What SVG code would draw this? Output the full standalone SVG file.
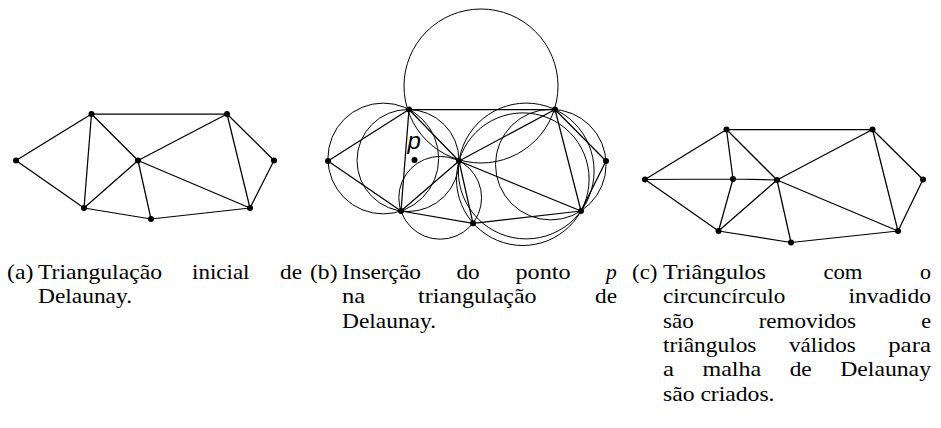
<svg xmlns="http://www.w3.org/2000/svg" width="941" height="428" viewBox="0 0 941 428">
<style>
.e{stroke:#000;stroke-width:1.25;fill:none;stroke-linecap:round}
.cc{stroke:#000;stroke-width:1;fill:none}
.n{fill:#000}
.cap{font-family:"Liberation Serif","Times New Roman",serif;font-size:21.5px;fill:#000}
.pl{font-family:"Liberation Sans",Arial,sans-serif;font-size:24px;font-style:italic;fill:#000}
</style>
<rect width="941" height="428" fill="#fff"/>

<!-- Panel (a) -->
<g id="a-connectors">
<path class="e" d="M16,160.5L91.5,114M16,160.5L84,208M91.5,114L227,114M91.5,114L84,208M91.5,114L138,160.5M138,160.5L84,208M138,160.5L227,114M138,160.5L151,219M138,160.5L250,208M84,208L151,219M151,219L250,208M227,114L250,208M227,114L274,160.5M274,160.5L250,208"/>
</g>
<g id="a-nodes">
<g id="a-A"><circle class="n" cx="16" cy="160.5" r="3"/></g>
<g id="a-B"><circle class="n" cx="91.5" cy="114" r="3"/></g>
<g id="a-C"><circle class="n" cx="227" cy="114" r="3"/></g>
<g id="a-D"><circle class="n" cx="274" cy="160.5" r="3"/></g>
<g id="a-E"><circle class="n" cx="138" cy="160.5" r="3"/></g>
<g id="a-F"><circle class="n" cx="84" cy="208" r="3"/></g>
<g id="a-G"><circle class="n" cx="151" cy="219" r="3"/></g>
<g id="a-H"><circle class="n" cx="250" cy="208" r="3"/></g>
</g>

<!-- Panel (b) -->
<g id="b-circumcircles">
<circle class="cc" cx="481" cy="86" r="77"/>
<circle class="cc" cx="383.3" cy="158.5" r="55.4"/>
<circle class="cc" cx="408" cy="160.5" r="51"/>
<circle class="cc" cx="440.2" cy="197.8" r="41.4"/>
<circle class="cc" cx="522.8" cy="179.2" r="66.3"/>
<circle class="cc" cx="526.2" cy="171" r="67.9"/>
<circle class="cc" cx="550.8" cy="164.6" r="55.3"/>
</g>
<g id="b-connectors">
<path class="e" d="M328,161L409,109.5M328,161L401,211M409,109.5L555,109.5M409,109.5L401,211M409,109.5L459,161M459,161L401,211M459,161L555,109.5M459,161L473,223.3M459,161L581,211M401,211L473,223.3M473,223.3L581,211M555,109.5L581,211M555,109.5L606,161M606,161L581,211"/>
</g>
<g id="b-nodes">
<g id="b-A"><circle class="n" cx="328" cy="161" r="3"/></g>
<g id="b-B"><circle class="n" cx="409" cy="109.5" r="3"/></g>
<g id="b-C"><circle class="n" cx="555" cy="109.5" r="3"/></g>
<g id="b-D"><circle class="n" cx="606" cy="161" r="3"/></g>
<g id="b-E"><circle class="n" cx="459" cy="161" r="3"/></g>
<g id="b-F"><circle class="n" cx="401" cy="211" r="3"/></g>
<g id="b-G"><circle class="n" cx="473" cy="223.3" r="3"/></g>
<g id="b-H"><circle class="n" cx="581" cy="211" r="3"/></g>
<g id="b-p"><circle class="n" cx="414.5" cy="160" r="3"/><text class="pl" x="407.5" y="149">p</text></g>
</g>

<!-- Panel (c) -->
<g id="c-connectors">
<path class="e" d="M645,179.5L726.5,129.5M645,179.5L718.5,231M645,179.5L733,179M733,179L777,180M726.5,129.5L733,179M733,179L718.5,231M726.5,129.5L872.5,129.5M726.5,129.5L777,180M777,180L718.5,231M777,180L872.5,129.5M777,180L791,242.5M777,180L898,231M718.5,231L791,242.5M791,242.5L898,231M872.5,129.5L898,231M872.5,129.5L923,179.5M923,179.5L898,231"/>
</g>
<g id="c-nodes">
<g id="c-A"><circle class="n" cx="645" cy="179.5" r="3"/></g>
<g id="c-B"><circle class="n" cx="726.5" cy="129.5" r="3"/></g>
<g id="c-C"><circle class="n" cx="872.5" cy="129.5" r="3"/></g>
<g id="c-D"><circle class="n" cx="923" cy="179.5" r="3"/></g>
<g id="c-p"><circle class="n" cx="733" cy="179" r="3"/></g>
<g id="c-E"><circle class="n" cx="777" cy="180" r="3"/></g>
<g id="c-F"><circle class="n" cx="718.5" cy="231" r="3"/></g>
<g id="c-G"><circle class="n" cx="791" cy="242.5" r="3"/></g>
<g id="c-H"><circle class="n" cx="898" cy="231" r="3"/></g>
</g>

<!-- Captions -->
<g id="caption-a" class="cap">
<text x="7" y="279" textLength="26.5" lengthAdjust="spacingAndGlyphs">(a)</text>
<text x="38" y="279" textLength="124" lengthAdjust="spacingAndGlyphs">Triangulação</text>
<text x="192" y="279" textLength="57.5" lengthAdjust="spacingAndGlyphs">inicial</text>
<text x="280" y="279" textLength="22" lengthAdjust="spacingAndGlyphs">de</text>
<text x="38" y="303.3" textLength="94" lengthAdjust="spacingAndGlyphs">Delaunay.</text>
</g>
<g id="caption-b" class="cap">
<text x="310" y="279" textLength="27.5" lengthAdjust="spacingAndGlyphs">(b)</text>
<text x="342" y="279" textLength="79" lengthAdjust="spacingAndGlyphs">Inserção</text>
<text x="456.5" y="279" textLength="23.2" lengthAdjust="spacingAndGlyphs">do</text>
<text x="515.5" y="279" textLength="55" lengthAdjust="spacingAndGlyphs">ponto</text>
<text x="605.9" y="279" font-style="italic">p</text>
<text x="342" y="303.3" textLength="23.2" lengthAdjust="spacingAndGlyphs">na</text>
<text x="418" y="303.3" textLength="118.6" lengthAdjust="spacingAndGlyphs">triangulação</text>
<text x="595" y="303.3" textLength="22" lengthAdjust="spacingAndGlyphs">de</text>
<text x="342" y="327.6" textLength="94" lengthAdjust="spacingAndGlyphs">Delaunay.</text>
</g>
<g id="caption-c" class="cap">
<text x="632" y="279" textLength="25.5" lengthAdjust="spacingAndGlyphs">(c)</text>
<text x="663" y="279" textLength="102.9" lengthAdjust="spacingAndGlyphs">Triângulos</text>
<text x="823.4" y="279" textLength="39.1" lengthAdjust="spacingAndGlyphs">com</text>
<text x="920" y="279" textLength="11" lengthAdjust="spacingAndGlyphs">o</text>
<text x="663" y="303.3" textLength="122.4" lengthAdjust="spacingAndGlyphs">circuncírculo</text>
<text x="848.5" y="303.3" textLength="82.5" lengthAdjust="spacingAndGlyphs">invadido</text>
<text x="663" y="327.6" textLength="30.7" lengthAdjust="spacingAndGlyphs">são</text>
<text x="758.7" y="327.6" textLength="97.4" lengthAdjust="spacingAndGlyphs">removidos</text>
<text x="921.2" y="327.6" textLength="9.8" lengthAdjust="spacingAndGlyphs">e</text>
<text x="663" y="351.9" textLength="93.4" lengthAdjust="spacingAndGlyphs">triângulos</text>
<text x="789" y="351.9" textLength="66.7" lengthAdjust="spacingAndGlyphs">válidos</text>
<text x="888.2" y="351.9" textLength="42.8" lengthAdjust="spacingAndGlyphs">para</text>
<text x="663" y="376.2" textLength="11" lengthAdjust="spacingAndGlyphs">a</text>
<text x="702.5" y="376.2" textLength="58.7" lengthAdjust="spacingAndGlyphs">malha</text>
<text x="789.7" y="376.2" textLength="22" lengthAdjust="spacingAndGlyphs">de</text>
<text x="840.2" y="376.2" textLength="90.8" lengthAdjust="spacingAndGlyphs">Delaunay</text>
<text x="663" y="400.5" textLength="111.5" lengthAdjust="spacingAndGlyphs">são criados.</text>
</g>
</svg>
